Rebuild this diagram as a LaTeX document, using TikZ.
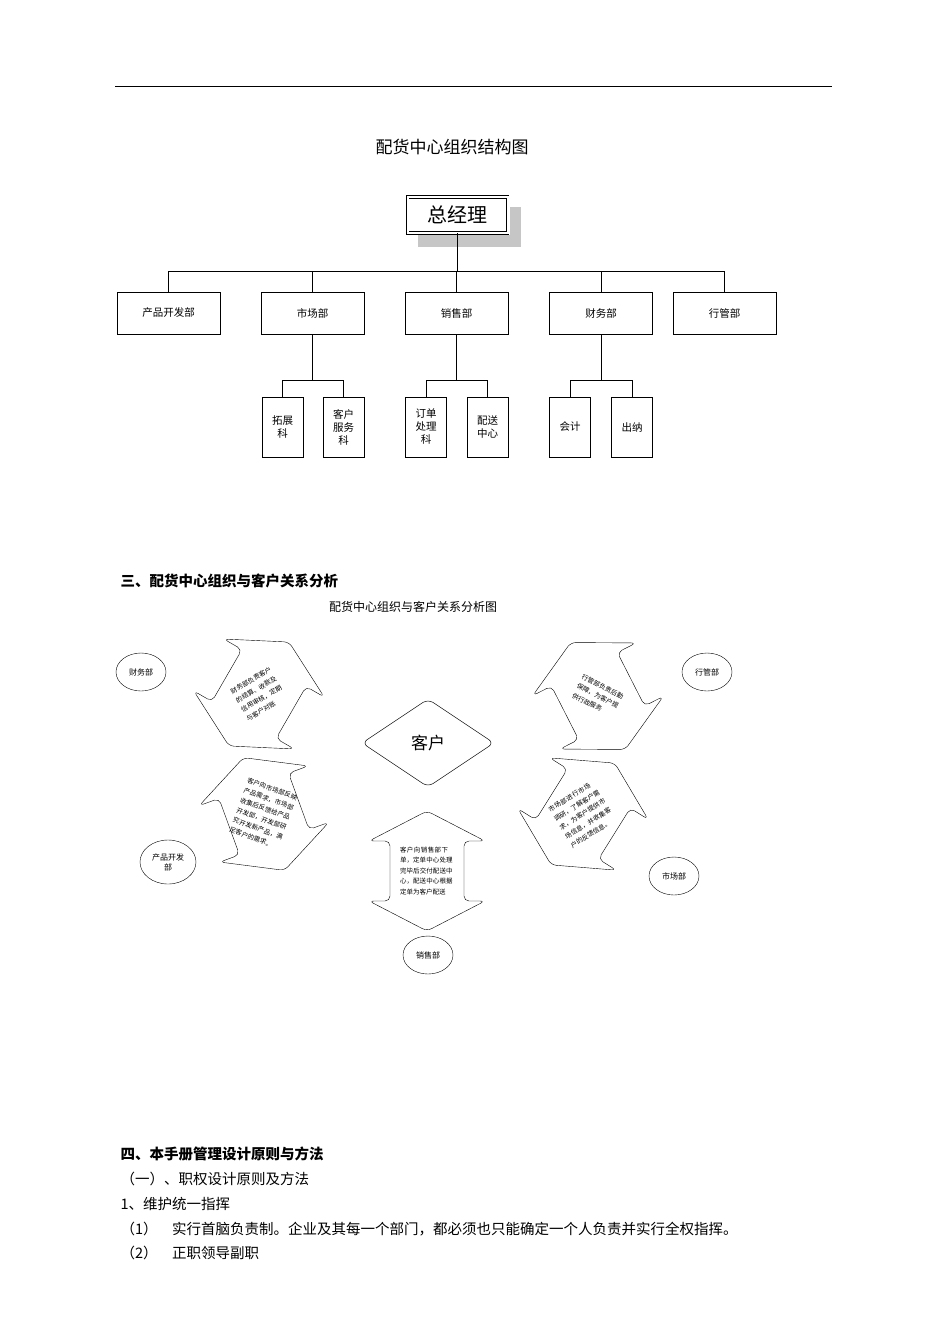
\documentclass[tikz,border=0pt]{standalone}
\usepackage{fontspec}
\setmainfont{Noto Sans CJK SC}
\XeTeXlinebreaklocale "zh"
\XeTeXlinebreakskip=0pt plus 1pt
\usetikzlibrary{shapes.geometric}
\tikzset{
  box/.style={draw,line width=0.6pt,minimum height=42pt,font=\fontsize{10.5}{13}\selectfont},
  wbox/.style={box,minimum width=103pt},
  nbox/.style={box,minimum width=41pt,minimum height=60pt,align=center},
  dept/.style={draw,ellipse,line width=0.4pt,minimum width=50pt,minimum height=38pt,align=center,font=\fontsize{8}{10}\selectfont},
  ln/.style={line width=0.6pt},
  arr/.style={draw,line width=0.4pt,rounded corners=5pt},
  body/.style={anchor=base west,font=\fontsize{14.5}{17}\selectfont}
}
\newcommand\dblarr[4]{%
 \begin{scope}[shift={(#1)},rotate=#2]
  \draw[arr] (0,-60)--(58,-30)--(37,-30)--(37,30)--(58,30)--(0,60)--(-58,30)--(-37,30)--(-37,-30)--(-58,-30)--cycle;
  \node[rotate=-#2,text width=#3,align=left,font=\fontsize{6.5}{10.5}\selectfont,inner sep=0] at (0,0) {#4};
 \end{scope}}
\begin{document}
\begin{tikzpicture}[x=1pt,y=-1pt]
\useasboundingbox (0,0) rectangle (950,1344);
\draw[line width=0.8pt] (115,86)--(832,86);
\node[font=\fontsize{17}{20}\selectfont] (t1) at (452,147) {配货中心组织结构图};
\fill[gray!45] (418,207) rectangle (521,247);
\fill[white] (405,195) rectangle (510,235);
\node[draw,double,double distance=2pt,line width=0.6pt,minimum width=100pt,minimum height=36pt,font=\fontsize{20}{24}\selectfont] (gm) at (457.5,215) {总经理};
\node[wbox] (p1) at (168.5,313) {产品开发部};
\node[wbox] (p2) at (312.5,313) {市场部};
\node[wbox] (p3) at (456.5,313) {销售部};
\node[wbox] (p4) at (601,313) {财务部};
\node[wbox] (p5) at (724.5,313) {行管部};
\draw[ln] (gm.south) -- (457.5,271);
\draw[ln] (168.5,271)--(724.5,271);
\foreach \p in {p1,p2,p3,p4,p5} \draw[ln] (\p.north) -- (\p.north|-0,271);
\node[nbox] (s1) at (282.5,427) {拓展\\科};
\node[nbox] (s2) at (343.5,427) {客户\\服务\\科};
\node[nbox] (s3) at (426,427) {订单\\处理\\科};
\node[nbox] (s4) at (487.5,427) {配送\\中心};
\node[nbox] (s5) at (570,427) {会计};
\node[nbox] (s6) at (632,427) {出纳};
\foreach \a/\b/\c in {p2/s1/s2,p3/s3/s4,p4/s5/s6}{
  \draw[ln] (\a.south) -- (\a.south|-0,380);
  \draw[ln] (\b.north) -- (\b.north|-0,380) -- (\c.north|-0,380) -- (\c.north);
}
\node[body,font=\bfseries\fontsize{14.5}{17}\selectfont] (h3) at (117,586) {三、配货中心组织与客户关系分析};
\node[font=\fontsize{12}{14}\selectfont] (t2) at (413,607) {配货中心组织与客户关系分析图};
\node[draw,diamond,line width=0.5pt,rounded corners=6pt,minimum width=132pt,minimum height=88pt,aspect=1.5,font=\fontsize{17}{20}\selectfont] (kh) at (428,743) {客户};
\node[dept] (d1) at (141,672) {财务部};
\node[dept] (d2) at (707,672) {行管部};
\node[dept,minimum width=56pt,minimum height=44pt] (d3) at (168,862) {产品开发\\部};
\node[dept] (d4) at (674,876) {市场部};
\node[dept] (d5) at (428,955) {销售部};
\dblarr{259,694}{-30}{46pt}{财务部负责客户的结算、收款及信用审核，定期与客户对账}
\dblarr{264,814}{20}{54pt}{客户向市场部反映产品需求，市场部收集后反馈给产品开发部，开发部研究开发新产品，满足客户的需求。}
\dblarr{598,696}{27}{46pt}{行管部负责后勤保障，为客户提供行政服务}
\dblarr{583,814}{-32}{54pt}{市场部进行市场调研，了解客户需求，为客户提供市场信息，并收集客户的反馈信息。}
\dblarr{427,871}{0}{54pt}{客户向销售部下单，定单中心处理完毕后交付配送中心，配送中心根据定单为客户配送}
\node[body,font=\bfseries\fontsize{14.5}{17}\selectfont] (h4) at (117,1159) {四、本手册管理设计原则与方法};
\node[body] (l1) at (117,1184) {（一）、职权设计原则及方法};
\node[body] (l2) at (117,1209) {1、维护统一指挥};
\node[body] (l3) at (117,1234) {（1）\quad 实行首脑负责制。企业及其每一个部门，都必须也只能确定一个人负责并实行全权指挥。};
\node[body] (l4) at (117,1258) {（2）\quad 正职领导副职};
\end{tikzpicture}
\end{document}
